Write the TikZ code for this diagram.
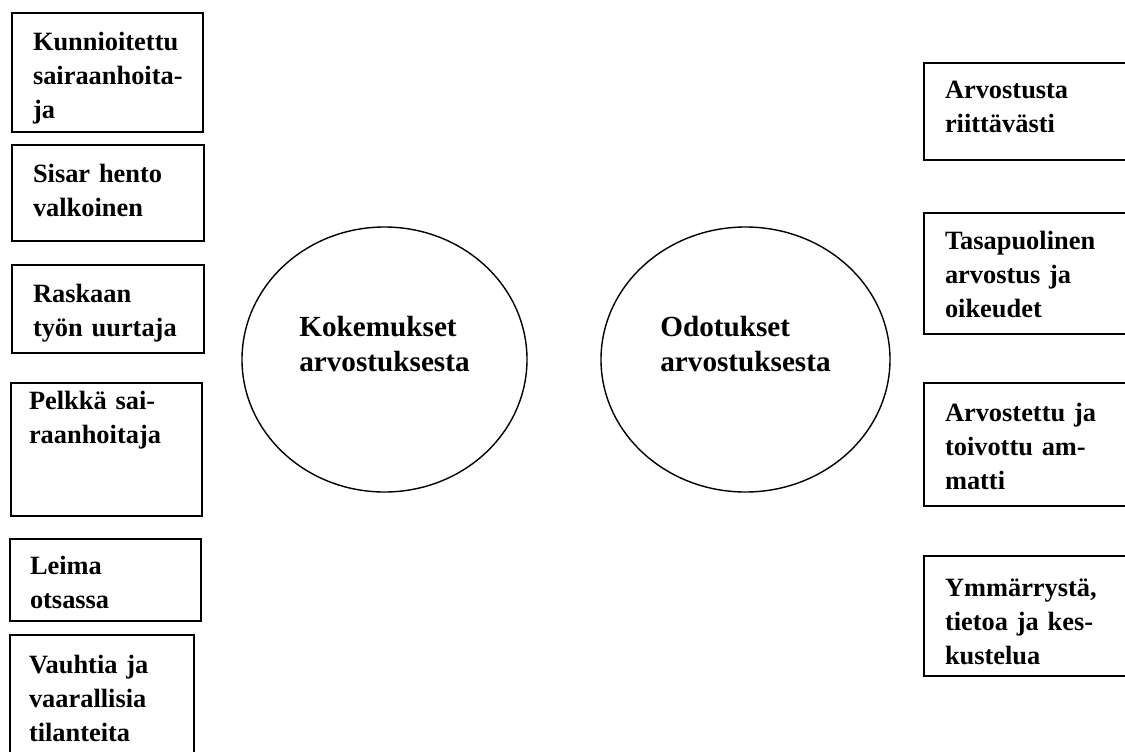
\documentclass[tikz,border=0pt]{standalone}
\usepackage{fontspec}
\setmainfont{Liberation Serif}
\usepackage{tikz}
\usetikzlibrary{positioning,shapes.geometric}

\begin{document}
\begin{tikzpicture}[x=0.5pt,y=-0.5pt,
  laatikko/.style={draw,line width=1pt,anchor=north west,inner ysep=0pt,inner xsep=10.5pt,
    align=left,text width=75pt,font={\bfseries\fontsize{13.2}{17}\selectfont\hyphenpenalty10000 \exhyphenpenalty10000 }},
  pallo/.style={draw,ellipse,line width=0.7pt,inner sep=0pt,minimum height=132.5pt,
    align=left,text height=27.5pt,text depth=16pt,font=\bfseries\fontsize{14.6}{17.5}\selectfont}]
  \useasboundingbox (0,0) rectangle (1125,751);
  \node[laatikko,text width=74.5pt,text height=18.75pt,text depth=40.75pt] (kunnioitettu) at (11,12) {Kunnioitettu\\sairaanhoita-\\ja};
  \node[laatikko,text height=18.5pt,text depth=29.5pt] (sisar) at (11,144) {Sisar hento\\valkoinen};
  \node[laatikko,text height=18.5pt,text depth=25.5pt] (raskaan) at (11,264) {Raskaan\\työn uurtaja};
  \node[laatikko,inner xsep=9pt,text width=77.5pt,text height=13pt,text depth=53.5pt] (pelkka) at (10,382) {Pelkkä sai-\\raanhoitaja};
  \node[laatikko,inner xsep=10pt,text width=75.5pt,text height=17.5pt,text depth=23.5pt] (leima) at (9,538) {Leima\\otsassa};
  \node[laatikko,inner xsep=9.5pt,text width=73pt,text height=19pt,text depth=51pt] (vauhtia) at (9,634) {Vauhtia ja\\vaarallisia\\tilanteita};
  \node[pallo,minimum width=142.5pt] (kokemukset) at (384.5,359.5) {Kokemukset\\arvostuksesta};
  \node[pallo,minimum width=144.5pt] (odotukset) at (745.5,359.5) {Odotukset\\arvostuksesta};
  \foreach \nimi/\y/\ty/\sy/\teksti in {arvostusta/62/17.5/31/{Arvostusta\\riittävästi},
      tasapuolinen/212/18/42.5/{Tasapuolinen\\arvostus ja\\oikeudet},
      arvostettu/382/19/42.5/{Arvostettu ja\\toivottu am-\\matti},
      ymmarrysta/555/20/40/{Ymmärrystä,\\tietoa ja kes-\\kustelua}}
    \node[laatikko,text width=86.5pt,text height=\ty pt,text depth=\sy pt] (\nimi) at (923,\y) {\teksti};
\end{tikzpicture}
\end{document}
